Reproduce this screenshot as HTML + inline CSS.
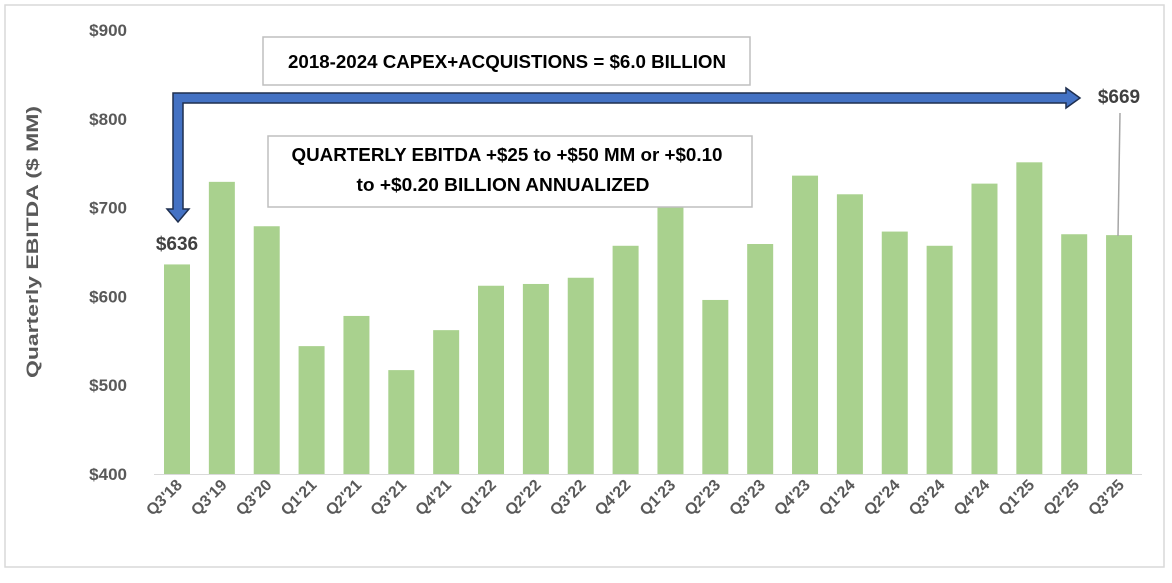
<!DOCTYPE html>
<html><head><meta charset="utf-8"><style>
body{margin:0;background:#fff;}
svg text{font-family:"Liberation Sans",sans-serif;}
</style></head><body>
<svg width="1172" height="578">
<rect x="5" y="5" width="1159" height="562" fill="#fff" stroke="#d9d9d9" stroke-width="1.5"/>
<g id="yaxis"></g>
<g id="bars"></g>
<g id="xlabels"></g>
<text transform="translate(38,242) rotate(-90)" text-anchor="middle" font-size="17" font-weight="bold" fill="#595959" textLength="272" lengthAdjust="spacingAndGlyphs">Quarterly  EBITDA ($ MM)</text>
<rect x="263" y="37" width="487" height="48" fill="#fff" stroke="#bfbfbf" stroke-width="1.5"/>
<text x="507" y="68" text-anchor="middle" font-size="18" font-weight="bold" fill="#000" textLength="438" lengthAdjust="spacingAndGlyphs">2018-2024 CAPEX+ACQUISTIONS = $6.0 BILLION</text>
<rect x="268" y="136" width="484" height="71" fill="#fff" stroke="#bfbfbf" stroke-width="1.5"/>
<text x="507" y="161" text-anchor="middle" font-size="18" font-weight="bold" fill="#000" textLength="431" lengthAdjust="spacingAndGlyphs">QUARTERLY EBITDA +$25 to +$50 MM or +$0.10</text>
<text x="503" y="191" text-anchor="middle" font-size="18" font-weight="bold" fill="#000" textLength="293" lengthAdjust="spacingAndGlyphs">to +$0.20 BILLION ANNUALIZED</text>
<path d="M173,93 L1066,93 L1066,88 L1080,98 L1066,108 L1066,103 L183,103 L183,209 L189,209 L178,222 L167,209 L173,209 Z" fill="#4472c4" stroke="#1f2f4f" stroke-width="1.5"/>
<line x1="1120" y1="113" x2="1118" y2="236" stroke="#a6a6a6" stroke-width="1.5"/>
<text x="177" y="250" text-anchor="middle" font-size="19" font-weight="bold" fill="#404040">$636</text>
<text x="1119" y="103" text-anchor="middle" font-size="19" font-weight="bold" fill="#404040">$669</text>
</svg>
<script>
const categories=["Q3'18","Q3'19","Q3'20","Q1'21","Q2'21","Q3'21","Q4'21","Q1'22","Q2'22","Q3'22","Q4'22","Q1'23","Q2'23","Q3'23","Q4'23","Q1'24","Q2'24","Q3'24","Q4'24","Q1'25","Q2'25","Q3'25"];
const values=[636,729,679,544,578,517,562,612,614,621,657,705,596,659,736,715,673,657,727,751,670,669];
const yTicks=[400,500,600,700,800,900];
const yTickLabels=["$400","$500","$600","$700","$800","$900"];
const NS="http://www.w3.org/2000/svg";
const y=v=>474-(v-400)*0.888;
const xc=i=>177+i*44.86;
const yg=document.getElementById('yaxis'),bg=document.getElementById('bars'),xg=document.getElementById('xlabels');
yTicks.forEach((t,i)=>{const e=document.createElementNS(NS,'text');


e.setAttribute('x',127);e.setAttribute('y',y(t)+6);e.setAttribute('text-anchor','end');e.setAttribute('font-size','17');e.setAttribute('font-weight','bold');e.setAttribute('fill','#595959');e.textContent=yTickLabels[i];yg.appendChild(e);});
const ax=document.createElementNS(NS,'line');


ax.setAttribute('x1',154);ax.setAttribute('x2',1142);ax.setAttribute('y1',474.5);ax.setAttribute('y2',474.5);ax.setAttribute('stroke','#d9d9d9');yg.appendChild(ax);
values.forEach((v,i)=>{const r=document.createElementNS(NS,'rect');


r.setAttribute('x',xc(i)-13);r.setAttribute('width',26);r.setAttribute('y',y(v));r.setAttribute('height',474-y(v));r.setAttribute('fill','#a9d18e');bg.appendChild(r);
const t=document.createElementNS(NS,'text');


t.setAttribute('transform','translate('+(xc(i)+6)+',486) rotate(-45)');t.setAttribute('text-anchor','end');t.setAttribute('font-size','16');t.setAttribute('font-weight','bold');t.setAttribute('fill','#595959');t.textContent=categories[i];xg.appendChild(t);});
</script>
</body></html>
